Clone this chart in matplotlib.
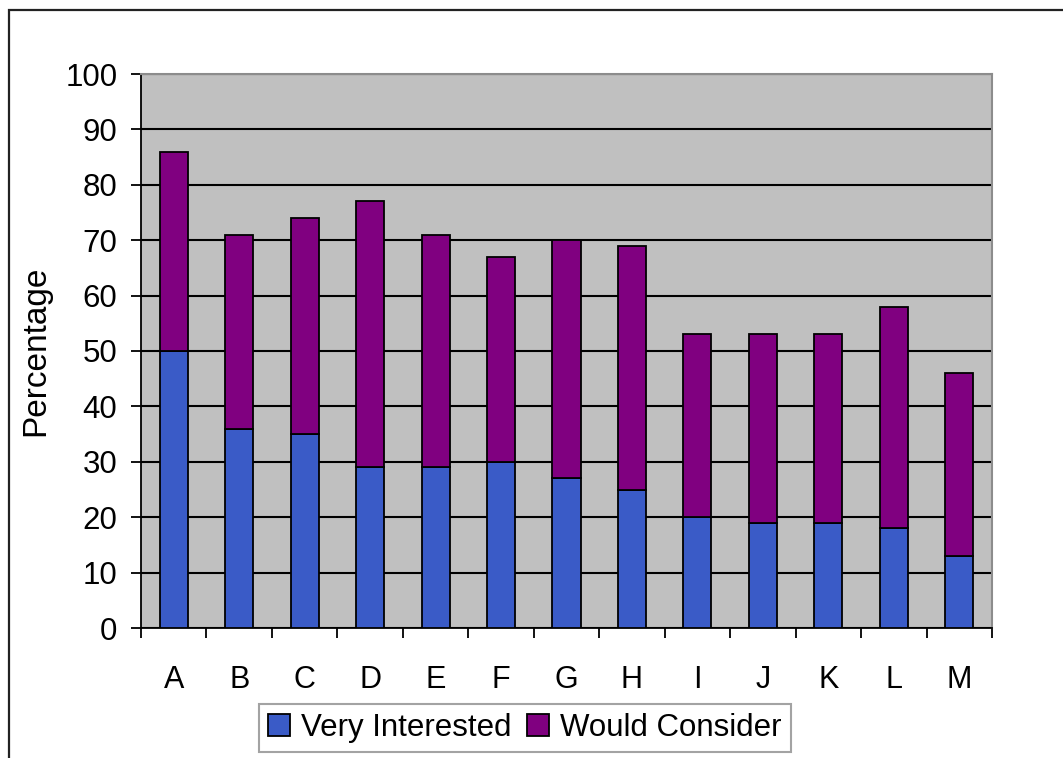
import matplotlib
matplotlib.use("Agg")
import matplotlib.pyplot as plt
from matplotlib.patches import Rectangle
import numpy as np

plt.rcParams['font.family'] = ['Liberation Sans', 'DejaVu Sans']

# survey results, percent of respondents
categories = ['A', 'B', 'C', 'D', 'E', 'F', 'G', 'H', 'I', 'J', 'K', 'L', 'M']
very_interested = [50, 36, 35, 29, 29, 30, 27, 25, 20, 19, 19, 18, 13]
would_consider = [36, 35, 39, 48, 42, 37, 43, 44, 33, 34, 34, 40, 33]

blue = '#3A5BC7'
purple = '#800080'

fig = plt.figure(figsize=(10.63, 7.58), dpi=100)
ax = fig.add_axes([141 / 1063, 130 / 758, 851 / 1063, 554 / 758])
ax.set_facecolor('#C0C0C0')

x = np.arange(len(categories))
ax.bar(x, very_interested, width=0.43, color=blue, edgecolor='black',
       linewidth=1.3, label='Very Interested', zorder=3)
ax.bar(x, would_consider, width=0.43, bottom=very_interested, color=purple,
       edgecolor='black', linewidth=1.3, label='Would Consider', zorder=3)

ax.set_xlim(-0.5, len(categories) - 0.5)
ax.set_ylim(0, 100)
ax.set_yticks(range(0, 101, 10))
ax.grid(axis='y', color='black', linewidth=1.5, zorder=1)

# ticks sit between categories, labels under each bar
ax.set_xticks(np.arange(-0.5, len(categories), 1.0))
ax.set_xticklabels([])
ax.set_xticks(x, minor=True)
ax.set_xticklabels(categories, minor=True)
ax.tick_params(axis='x', which='major', direction='out', length=7, width=1.3)
ax.tick_params(axis='x', which='minor', length=0, pad=27, labelsize=22)
ax.tick_params(axis='y', direction='out', length=7, width=1.3, pad=10, labelsize=22.5)

for side in ['top', 'right']:
    ax.spines[side].set_color('#8C8C8C')
    ax.spines[side].set_linewidth(1.5)
for side in ['left', 'bottom']:
    ax.spines[side].set_color('black')
    ax.spines[side].set_linewidth(1.3)

ax.set_ylabel('Percentage', fontsize=24, labelpad=10)

leg = fig.legend(loc='center', bbox_to_anchor=(525 / 1063, 30 / 758), ncol=2,
                 fontsize=22.5, frameon=True, fancybox=False, handlelength=0.7,
                 handleheight=0.7, handletextpad=0.35, columnspacing=0.5,
                 borderpad=0.3, borderaxespad=0)
leg.get_frame().set_edgecolor('#8C8C8C')
leg.get_frame().set_linewidth(1.5)

# outer chart frame
fig.add_artist(Rectangle((8.5 / 1063, -0.1), 1.2, 0.1 + (758 - 10) / 758,
                         transform=fig.transFigure, fill=False,
                         edgecolor='#222222', linewidth=1.6))

fig.savefig('out.png', dpi=100)
